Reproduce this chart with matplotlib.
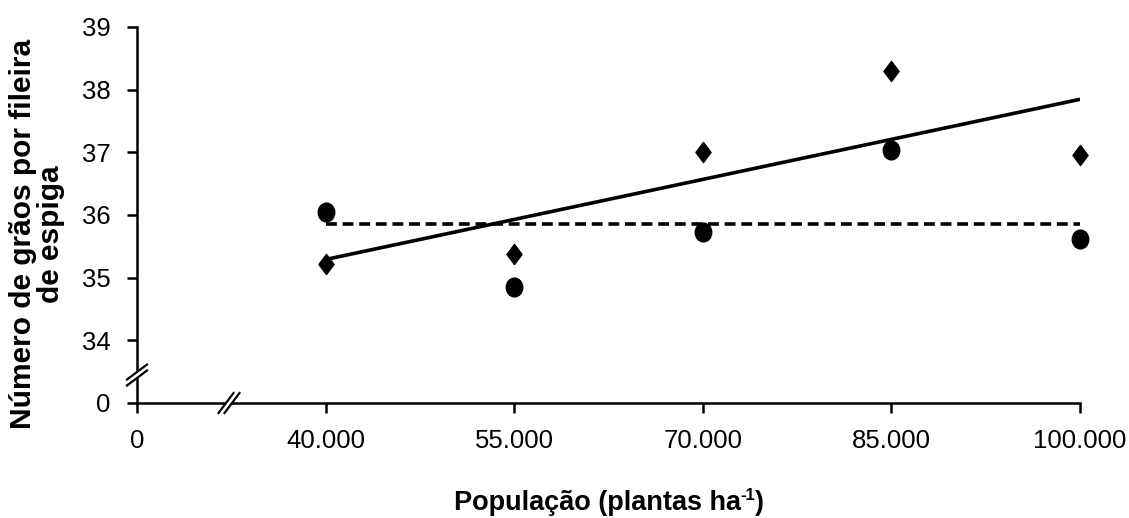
import matplotlib
matplotlib.use("Agg")
import matplotlib.pyplot as plt
import numpy as np
from matplotlib.path import Path
from matplotlib.lines import Line2D
from matplotlib.patches import Polygon

plt.rcParams['font.family'] = ['Liberation Sans', 'DejaVu Sans']

# ---- data ----
population = [40000, 55000, 70000, 85000, 100000]
series_diamond = [35.22, 35.37, 37.00, 38.30, 36.95]   # solid regression line
series_circle = [36.05, 34.85, 35.73, 37.03, 35.62]    # dashed mean line
x_tick_values = [25000, 40000, 55000, 70000, 85000, 100000]
x_tick_labels = ['0', '40.000', '55.000', '70.000', '85.000', '100.000']
y_tick_values = [33, 34, 35, 36, 37, 38, 39]
y_tick_labels = ['0', '34', '35', '36', '37', '38', '39']
xlabel_parts = ['População (plantas ha', '-1', ')']
ylabel = 'Número de grãos por fileira\nde espiga'

W, H = 1129, 518
fig = plt.figure(figsize=(W / 100, H / 100), dpi=100)
ax = fig.add_axes([137 / W, 1 - 403 / H, (1080 - 137) / W, (403 - 27) / H])

# markers
diamond = Path([(0, 1), (0.75, 0), (0, -1), (-0.75, 0), (0, 1)],
               [Path.MOVETO, Path.LINETO, Path.LINETO, Path.LINETO, Path.CLOSEPOLY])
circ = Path.unit_circle()
circ = Path(circ.vertices * np.array([0.88, 1.0]), circ.codes)

ax.plot(population, series_diamond, linestyle='none', marker=diamond,
        markersize=14.5, color='black', clip_on=False, zorder=4)
ax.plot(population, series_circle, linestyle='none', marker=circ,
        markersize=13.5, color='black', clip_on=False, zorder=4)

# regression line for diamonds
coef = np.polyfit(population, series_diamond, 1)
xs = np.array([population[0], population[-1]])
ax.plot(xs, np.polyval(coef, xs), color='black', lw=2.6, solid_capstyle='butt', zorder=3)
# mean line for circles
m = np.mean(series_circle)
ax.plot(xs, [m, m], color='black', lw=2.6, linestyle=(0, (3.0, 1.6)), zorder=3)

ax.set_xlim(25000, 100000)
ax.set_ylim(33, 39)
ax.set_xticks(x_tick_values)
ax.set_xticklabels(x_tick_labels)
ax.set_yticks(y_tick_values)
ax.set_yticklabels(y_tick_labels)
ax.tick_params(axis='both', direction='out', length=7, width=1.8, labelsize=18.5,
               colors='black')
ax.tick_params(axis='y', pad=12)
ax.tick_params(axis='x', pad=12)
for s in ['top', 'right']:
    ax.spines[s].set_visible(False)
for s in ['left', 'bottom']:
    ax.spines[s].set_linewidth(1.8)
    ax.spines[s].set_color('black')

# break marks in pixel coordinates
def px(x, y):
    return (x / W, 1 - y / H)

def brk(cx, cy, hx, hy, ox, oy):
    p1a = px(cx - hx - ox, cy + hy - oy)
    p1b = px(cx + hx - ox, cy - hy - oy)
    p2a = px(cx - hx + ox, cy + hy + oy)
    p2b = px(cx + hx + ox, cy - hy + oy)
    fig.patches.append(Polygon([p1a, p1b, p2b, p2a], closed=True,
                               transform=fig.transFigure, facecolor='white',
                               edgecolor='none', zorder=10))
    for a, b in [(p1a, p1b), (p2a, p2b)]:
        fig.lines.append(Line2D([a[0], b[0]], [a[1], b[1]], transform=fig.transFigure,
                                color='black', lw=1.6, zorder=11))

brk(137, 375, 10, 7.5, 0, 3)
brk(229, 403, 7.5, 10, 3, 0)

fig.text(37 / W, 1 - 234 / H, ylabel, rotation=90, ha='center', va='center',
         fontsize=21.5, fontweight='bold', multialignment='center', linespacing=1.0)

# x label with superscript hyphen "-1"
renderer = fig.canvas.get_renderer()
base_y = 1 - 510 / H
sizes = [19.5, 12, 19.5]
rises = [0, 10, 0]
texts = []
for part, fs in zip(xlabel_parts, sizes):
    t = fig.text(0, base_y, part, fontsize=fs, fontweight='bold',
                 ha='left', va='baseline')
    texts.append(t)
widths = [t.get_window_extent(renderer).width for t in texts]
total = sum(widths)
x0 = 609 - total / 2
for t, w, r in zip(texts, widths, rises):
    t.set_position((x0 / W, base_y + r / H))
    x0 += w

fig.savefig('out.png', dpi=100, facecolor='white')
